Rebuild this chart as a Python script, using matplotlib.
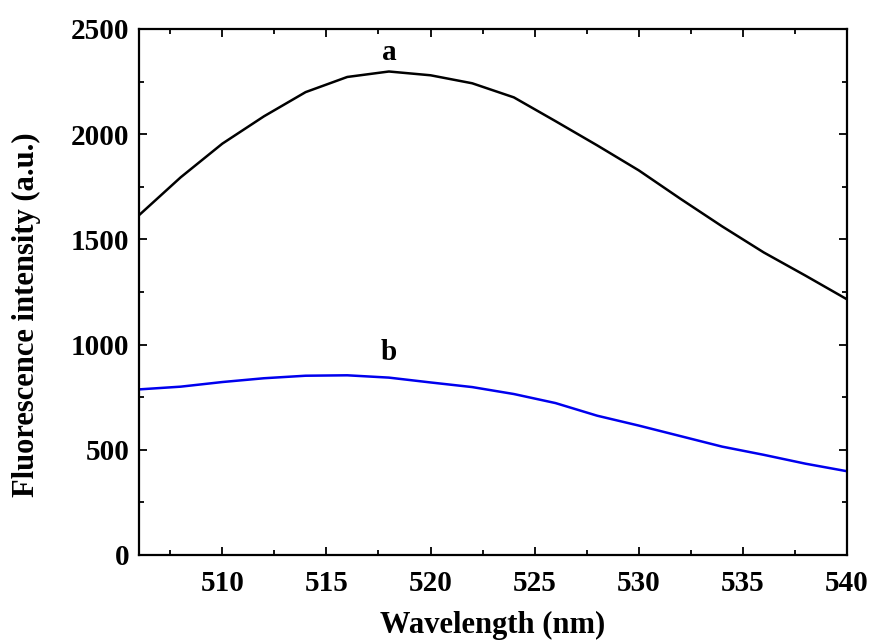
import matplotlib.pyplot as plt
from matplotlib.ticker import MultipleLocator

# Wavelengths (nm) and fluorescence intensities
wavelength = [506, 508, 510, 512, 514, 516, 518, 520, 522, 524, 526, 528, 530, 532, 534, 536, 538, 540]
curve_a = [1615, 1795, 1955, 2085, 2200, 2272, 2298, 2280, 2242, 2175, 2062, 1947, 1828, 1693, 1562, 1438, 1328, 1215]
curve_b = [787, 800, 822, 840, 852, 854, 843, 820, 798, 765, 722, 662, 615, 565, 515, 476, 434, 398]

plt.rcParams['font.family'] = ['Liberation Serif', 'DejaVu Serif']
plt.rcParams['font.weight'] = 'bold'

fig = plt.figure(figsize=(8.7, 6.43), dpi=100)
ax = fig.add_axes([0.1598, 0.1369, 0.8138, 0.818])

ax.plot(wavelength, curve_a, color='black', lw=1.8)
ax.plot(wavelength, curve_b, color='#0000ee', lw=1.8)

ax.text(518, 2390, 'a', ha='center', va='center', fontsize=21, fontweight='bold')
ax.text(518, 960, 'b', ha='center', va='center', fontsize=21, fontweight='bold')

ax.set_xlim(506, 540)
ax.set_ylim(0, 2500)
ax.xaxis.set_major_locator(MultipleLocator(5))
ax.xaxis.set_minor_locator(MultipleLocator(2.5))
ax.yaxis.set_major_locator(MultipleLocator(500))
ax.yaxis.set_minor_locator(MultipleLocator(250))

ax.tick_params(which='both', direction='in', width=1.3, labelsize=21)
ax.tick_params(axis='x', pad=11)
ax.tick_params(axis='y', pad=7)
ax.tick_params(which='major', length=6)
ax.tick_params(which='minor', length=3.5)
ax.tick_params(which='both', top=True, right=True)
for lab in ax.get_xticklabels() + ax.get_yticklabels():
    lab.set_fontweight('bold')

for s in ax.spines.values():
    s.set_linewidth(1.6)

ax.set_xlabel('Wavelength (nm)', fontsize=22, fontweight='bold', labelpad=10)
ax.set_ylabel('Fluorescence intensity (a.u.)', fontsize=22, fontweight='bold')
ax.yaxis.set_label_coords(-0.139, 0.456)

fig.savefig('out.png', dpi=100)
